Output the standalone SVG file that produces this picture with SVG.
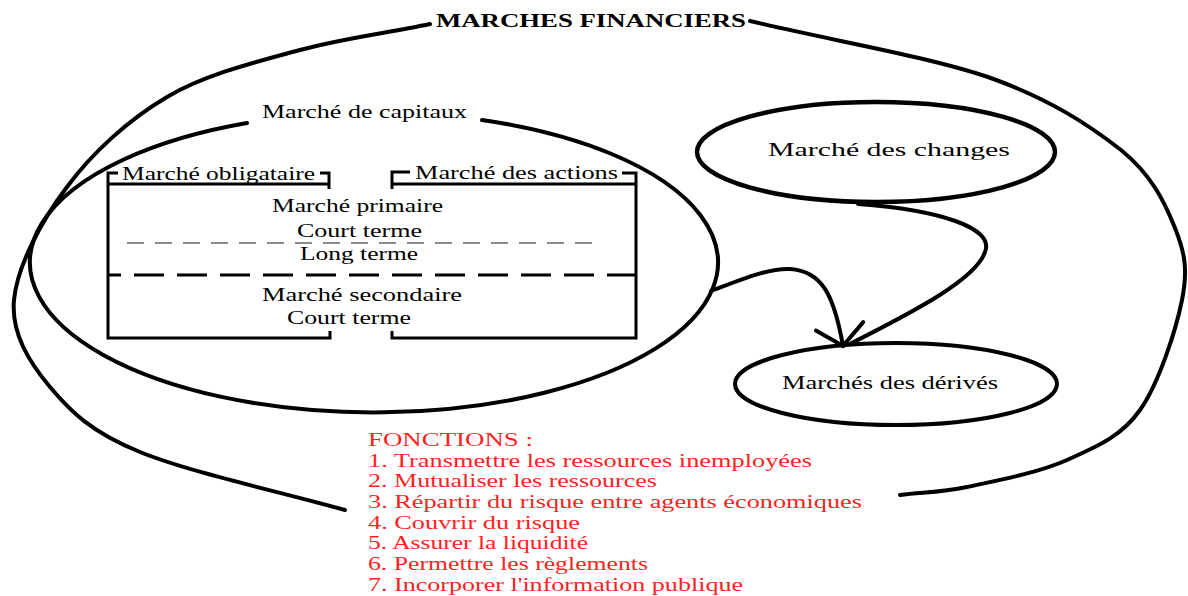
<svg xmlns="http://www.w3.org/2000/svg" width="1188" height="596" viewBox="0 0 1188 596">
<style>
.t{font-family:"Liberation Serif","Times New Roman",serif;font-size:18.5px;fill:#000}
.b{font-weight:bold;font-size:19px}
.r{fill:#ff1f1f;font-size:19px}
.curve{fill:none;stroke:#000;stroke-width:4;stroke-linecap:round}
.box{fill:none;stroke:#000;stroke-width:3}
.conn{fill:none;stroke:#000;stroke-width:4;stroke-linecap:round}
</style>
<defs>
<marker id="openArrow" markerUnits="userSpaceOnUse" orient="auto" refX="0" refY="0" markerWidth="40" markerHeight="60" overflow="visible">
<path d="M -20 -24 L 0 0 L -20 24" fill="none" stroke="#000" stroke-width="4" stroke-linecap="round"/>
</marker>
</defs>
<rect width="1188" height="596" fill="#fff"/>

<g id="marches-financiers">
<path class="curve" d="M 750 21 C 829 40, 926 56, 988 77 C 1050 99, 1089 125, 1121 150 C 1152 175, 1165 203, 1175 228 C 1185 253, 1188 270, 1182 300 C 1176 330, 1159 383, 1140 410 C 1121 437, 1096 447, 1067 460 C 1038 473, 995 481, 967 487 C 939 493, 922 492, 900 495"/>
<path class="curve" d="M 430 24 C 388 33, 344 38, 300 50 C 256 62, 206 74, 167 97 C 128 120, 92 153, 67 187 C 41 221, 17 267, 14 300 C 11 333, 29 362, 50 387 C 71 412, 91 432, 140 452 C 189 472, 277 491, 345 510"/>
<text class="t b" x="436" y="27" textLength="310" lengthAdjust="spacingAndGlyphs">MARCHES FINANCIERS</text>
</g>

<g id="marche-capitaux">
<path class="curve" d="M 482 120 A 344 150 0 1 1 247 123"/>
<text class="t" x="262" y="118" font-size="19" textLength="205" lengthAdjust="spacingAndGlyphs">Marché de capitaux</text>
</g>

<g id="obligataire-actions">
<path class="box" d="M 118 173 H 108 V 338 H 330 V 331"/>
<path class="box" d="M 108 184 H 330"/>
<path class="box" d="M 320 173 H 329 V 189"/>
<path class="box" d="M 392 189 V 172 H 410"/>
<path class="box" d="M 392 184 H 636"/>
<path class="box" d="M 622 173 H 636 V 338 H 392 V 331"/>
<path d="M 127 243 H 597" fill="none" stroke="#666" stroke-width="1.3" stroke-dasharray="17 11"/>
<path d="M 108 275 H 636" fill="none" stroke="#000" stroke-width="3" stroke-dasharray="30 13" stroke-dashoffset="17"/>
<text class="t" x="122" y="180" textLength="193" lengthAdjust="spacingAndGlyphs">Marché obligataire</text>
<text class="t" x="415" y="179" textLength="203" lengthAdjust="spacingAndGlyphs">Marché des actions</text>
<text class="t" x="272" y="212" textLength="171" lengthAdjust="spacingAndGlyphs">Marché primaire</text>
<text class="t" x="297" y="237" textLength="125" lengthAdjust="spacingAndGlyphs">Court terme</text>
<text class="t" x="300" y="260" textLength="118" lengthAdjust="spacingAndGlyphs">Long terme</text>
<text class="t" x="262" y="301" textLength="200" lengthAdjust="spacingAndGlyphs">Marché secondaire</text>
<text class="t" x="287" y="324" textLength="124" lengthAdjust="spacingAndGlyphs">Court terme</text>
</g>

<g id="marche-changes">
<ellipse cx="876" cy="152" rx="179" ry="50" fill="none" stroke="#000" stroke-width="4.5"/>
<text class="t" x="768" y="156" textLength="242" lengthAdjust="spacingAndGlyphs">Marché des changes</text>
</g>

<g id="marches-derives">
<ellipse cx="896" cy="384" rx="161" ry="41" fill="none" stroke="#000" stroke-width="4"/>
<text class="t" x="782" y="389" textLength="216" lengthAdjust="spacingAndGlyphs">Marchés des dérivés</text>
</g>

<g id="connectors">
<path class="conn" d="M 858 204 C 940 210, 995 228, 985 252 C 975 282, 900 318, 850 344"/>
<path class="conn" d="M 711 291 C 740 280, 768 268, 790 269 C 822 271, 834 295, 843 346" marker-end="url(#openArrow)"/>
</g>

<g id="fonctions">
<text class="t r" x="368" y="446" textLength="165" lengthAdjust="spacingAndGlyphs">FONCTIONS :</text>
<text class="t r" x="368" y="467" textLength="444" lengthAdjust="spacingAndGlyphs">1. Transmettre les ressources inemployées</text>
<text class="t r" x="368" y="487" textLength="289" lengthAdjust="spacingAndGlyphs">2. Mutualiser les ressources</text>
<text class="t r" x="368" y="508" textLength="494" lengthAdjust="spacingAndGlyphs">3. Répartir du risque entre agents économiques</text>
<text class="t r" x="368" y="529" textLength="212" lengthAdjust="spacingAndGlyphs">4. Couvrir du risque</text>
<text class="t r" x="368" y="549" textLength="220" lengthAdjust="spacingAndGlyphs">5. Assurer la liquidité</text>
<text class="t r" x="368" y="570" textLength="280" lengthAdjust="spacingAndGlyphs">6. Permettre les règlements</text>
<text class="t r" x="368" y="591" textLength="375" lengthAdjust="spacingAndGlyphs">7. Incorporer l'information publique</text>
</g>
</svg>
